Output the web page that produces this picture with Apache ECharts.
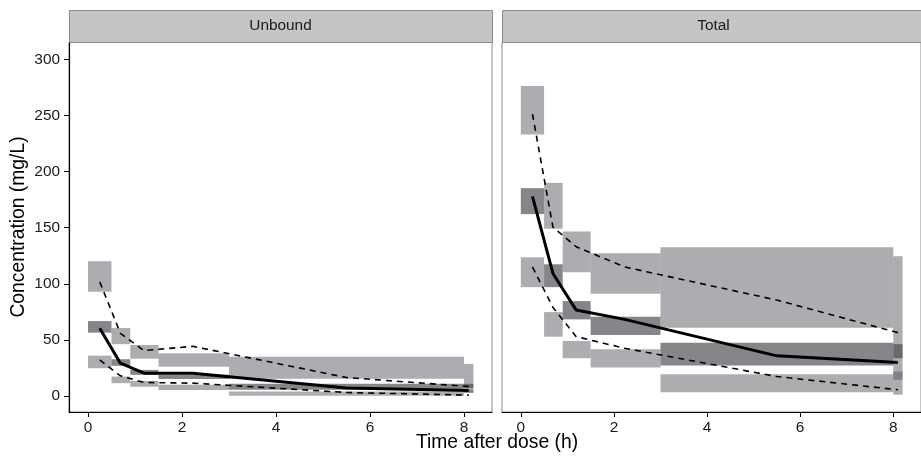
<!DOCTYPE html>
<html>
<head>
<meta charset="utf-8">
<script src="https://cdn.jsdelivr.net/npm/echarts@6/dist/echarts.min.js"></script>
<style>
html,body{margin:0;padding:0;background:#fff;}
#chart{width:921px;height:459px;}
</style>
</head>
<body>
<div id="chart"></div>
<script>
// ---- data ----
const panels = ['Unbound', 'Total'];
const binStart = [0, 0.5, 0.9, 1.5, 3, 8];
const binEnd = [0.5, 0.9, 1.5, 3, 8, 8.2];
const lineTime = [0.25, 0.69, 1.19, 2.23, 5.5, 8.1];
const xTicks = [0, 2, 4, 6, 8];
const yTicks = [0, 50, 100, 150, 200, 250, 300];

// Unbound: prediction-interval boxes
const unbUpperLo = [92.9, 46.2, 33.3, 26.0, 15.5, 3.2];
const unbUpperHi = [120.1, 60.6, 45.5, 38.2, 35.0, 28.7];
const unbMedLo = [56.5, 26.9, 18.9, 15.1, 5.6, 7.1];
const unbMedHi = [66.8, 32.8, 23.3, 18.9, 10.9, 10.9];
const unbLowerLo = [24.8, 11.5, 8.3, 5.3, 0.3, 2.7];
const unbLowerHi = [36.0, 17.4, 13.5, 10.0, 4.1, 5.6];
// Unbound: observed percentiles
const unbP95 = [101.7, 55.9, 40.5, 44.3, 16.5, 8.5];
const unbP50 = [60.4, 29.3, 20.4, 20.4, 7.1, 5.0];
const unbP05 = [32.2, 18.0, 12.1, 11.5, 3.2, 0.8];

// Total: prediction-interval boxes
const totUpperLo = [233.1, 149.1, 110.3, 91.1, 60.9, 14.5];
const totUpperHi = [276.3, 189.9, 146.7, 127.2, 132.5, 124.5];
const totMedLo = [162.1, 97.0, 68.3, 54.4, 27.2, 33.7];
const totMedHi = [185.2, 117.4, 84.6, 70.7, 47.6, 46.2];
const totLowerLo = [97.0, 52.9, 33.7, 25.4, 3.5, 1.2];
const totLowerHi = [123.6, 74.8, 49.1, 41.7, 19.5, 21.8];
// Total: observed percentiles
const totP95 = [251.2, 150.5, 133.0, 115.0, 85.5, 56.5];
const totP50 = [177.8, 109.2, 76.6, 68.3, 35.8, 29.8];
const totP05 = [115.0, 79.0, 52.9, 42.6, 17.4, 5.6];

// ---- build ----
const LIGHT = 'rgba(80,79,88,0.47)';
const MED = 'rgba(71,70,76,0.66)';
const FONT = '"Liberation Sans", Arial, Helvetica, sans-serif';

function boxes(upLo, upHi, mdLo, mdHi, lwLo, lwHi) {
  const out = [];
  for (let i = 0; i < binStart.length; i++) {
    out.push([binStart[i], binEnd[i], upLo[i], upHi[i], 0]);
    out.push([binStart[i], binEnd[i], lwLo[i], lwHi[i], 0]);
  }
  for (let i = 0; i < binStart.length; i++) {
    out.push([binStart[i], binEnd[i], mdLo[i], mdHi[i], 1]);
  }
  return out;
}
function pts(vals) { return lineTime.map((t, i) => [t, vals[i]]); }

function renderRect(params, api) {
  const x0 = api.value(0), x1 = api.value(1), lo = api.value(2), hi = api.value(3), kind = api.value(4);
  const a = api.coord([x0, hi]);
  const b = api.coord([x1, lo]);
  return {
    type: 'rect',
    shape: { x: a[0], y: a[1], width: b[0] - a[0], height: b[1] - a[1] },
    style: { fill: kind === 1 ? MED : LIGHT }
  };
}

const gridTop = 42, gridH = 370, gridW = 423;
const gridLefts = [69, 502];

const grids = gridLefts.map(l => ({
  left: l, top: gridTop, width: gridW, height: gridH,
  show: true, borderColor: '#8c8c8c', borderWidth: 1, backgroundColor: '#fff'
}));

const xAxes = gridLefts.map((l, i) => ({
  type: 'value', gridIndex: i, min: -0.404, max: 8.596,
  splitLine: { show: false },
  axisLine: { show: true, onZero: false, lineStyle: { color: '#000', width: 1.2 } },
  axisTick: { show: true, length: 5, customValues: xTicks, lineStyle: { color: '#000', width: 1 } },
  axisLabel: { show: true, customValues: xTicks, margin: 8, fontSize: 15.4, color: '#1a1a1a', fontFamily: FONT }
}));

const yAxes = gridLefts.map((l, i) => ({
  type: 'value', gridIndex: i, min: -14.2, max: 315.4,
  splitLine: { show: false },
  axisLine: { show: i === 0, onZero: false, lineStyle: { color: '#000', width: 1.2 } },
  axisTick: { show: i === 0, length: 5, customValues: yTicks, lineStyle: { color: '#000', width: 1 } },
  axisLabel: { show: i === 0, customValues: yTicks, margin: 9, fontSize: 15.4, color: '#1a1a1a', fontFamily: FONT }
}));

const panelData = [
  { box: boxes(unbUpperLo, unbUpperHi, unbMedLo, unbMedHi, unbLowerLo, unbLowerHi), p95: unbP95, p50: unbP50, p05: unbP05 },
  { box: boxes(totUpperLo, totUpperHi, totMedLo, totMedHi, totLowerLo, totLowerHi), p95: totP95, p50: totP50, p05: totP05 }
];

const series = [];
panelData.forEach((p, i) => {
  series.push({
    type: 'custom', xAxisIndex: i, yAxisIndex: i, renderItem: renderRect,
    data: p.box, encode: { x: [0, 1], y: [2, 3] }, silent: true, z: 1, clip: true
  });
  series.push({
    type: 'line', xAxisIndex: i, yAxisIndex: i, data: pts(p.p95), symbol: 'none', z: 3,
    lineStyle: { color: '#000', width: 1.6, type: [6, 5] }, silent: true
  });
  series.push({
    type: 'line', xAxisIndex: i, yAxisIndex: i, data: pts(p.p05), symbol: 'none', z: 3,
    lineStyle: { color: '#000', width: 1.6, type: [6, 5] }, silent: true
  });
  series.push({
    type: 'line', xAxisIndex: i, yAxisIndex: i, data: pts(p.p50), symbol: 'none', z: 4,
    lineStyle: { color: '#000', width: 3 }, silent: true
  });
});

const graphics = [];
gridLefts.forEach((l, i) => {
  graphics.push({
    type: 'rect', left: l, top: 10, z: 10,
    shape: { width: gridW, height: 32 },
    style: { fill: '#c4c5c4', stroke: '#8a8a8a', lineWidth: 1 }
  });
  graphics.push({
    type: 'text', x: l + gridW / 2, y: 26, z: 11,
    style: { text: panels[i], font: '15.4px ' + FONT, fill: '#1a1a1a', textAlign: 'center', textVerticalAlign: 'middle' }
  });
});
graphics.push({
  type: 'text', x: 497, y: 443, z: 11,
  style: { text: 'Time after dose (h)', font: '19.3px ' + FONT, fill: '#000', textAlign: 'center', textVerticalAlign: 'middle' }
});
graphics.push({
  type: 'text', x: 18.3, y: 227, rotation: Math.PI / 2, z: 11,
  style: { text: 'Concentration (mg/L)', font: '19.3px ' + FONT, fill: '#000', textAlign: 'center', textVerticalAlign: 'middle' }
});

const chart = echarts.init(document.getElementById('chart'), null, { renderer: 'canvas' });
chart.setOption({
  backgroundColor: '#fff',
  animation: false,
  grid: grids,
  xAxis: xAxes,
  yAxis: yAxes,
  series: series,
  graphic: graphics
});
</script>
</body>
</html>
